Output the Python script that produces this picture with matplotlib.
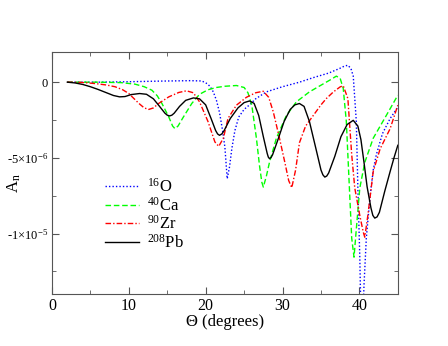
import matplotlib
matplotlib.use('Agg')
import matplotlib.pyplot as plt
from matplotlib.ticker import MultipleLocator, FixedLocator
import numpy as np

plt.rcParams['font.family'] = ['Liberation Serif', 'DejaVu Serif']
plt.rcParams['mathtext.fontset'] = 'custom'
plt.rcParams['mathtext.rm'] = 'Liberation Serif'
plt.rcParams['mathtext.it'] = 'Liberation Serif:italic'

# angles in degrees, asymmetries in units of 1e-6
theta_O = [2, 6, 10, 14, 18, 19.5, 20.2, 20.6, 21.0, 21.4, 21.8, 22.2, 22.5, 22.8,
           23.1, 23.4, 23.8, 24.3, 25.0, 25.7, 26.5, 27.9, 30, 32.2, 34, 36, 37.4,
           38.0, 38.5, 38.9, 39.2, 39.6, 39.8, 40.05, 40.3, 40.6, 40.9, 41.4, 41.8,
           42.2, 43.0, 44.0, 45]
A_O = [0, 0.0, 0.03, 0.07, 0.1, 0.08, -0.1, -0.3, -0.65, -1.2, -2.0, -3.2, -4.3, -6.38,
       -5.6, -4.4, -3.2, -2.3, -1.8, -1.5, -1.1, -0.64, -0.3, 0.0, 0.3, 0.6, 0.9,
       1.05, 1.12, 0.9, 0.4, -2.6, -7.0, -11.5, -18.0, -13.4, -10.3, -7.5, -5.8,
       -4.8, -3.4, -2.4, -1.65]

theta_Ca = [2, 6, 9, 10.8, 12, 13, 13.7, 14.3, 15.2, 15.7, 16.0, 16.4, 17.1, 18.2, 19.2,
            20.3, 21.4, 22.5, 24.0, 25.0, 25.5, 26.0, 26.6, 27.0, 27.3, 27.5, 27.9, 28.3,
            29.2, 30.5, 31.8, 33.5, 35, 36.2, 37.0, 37.5, 37.9, 38.3, 38.7, 39.0, 39.3,
            39.6, 40.05, 40.7, 41.8, 43.5, 45]
A_Ca = [0, 0, -0.03, -0.13, -0.3, -0.53, -0.9, -1.4, -2.3, -2.9, -3.07, -2.9, -2.3, -1.4,
        -0.8, -0.5, -0.35, -0.27, -0.22, -0.35, -0.7, -1.52, -3.7, -5.5, -6.6, -6.93,
        -6.2, -5.3, -3.7, -2.2, -1.3, -0.64, -0.2, 0.15, 0.4, 0.25, -0.42, -2.6, -7.0,
        -10.3, -11.56, -9.7, -7.0, -5.3, -3.7, -2.2, -0.86]

theta_Zr = [2, 4, 5.6, 7, 8.2, 9.2, 10.0, 11.3, 12.0, 12.6, 13.2, 13.9, 15.2, 16.5,
            17.5, 18.4, 19.2, 20.3, 21.2, 21.7, 22.3, 22.9, 24.0, 25.3, 26.5, 27.5,
            28.2, 28.8, 29.6, 30.3, 30.8, 31.2, 31.7, 32.2, 33.0, 34.0, 35.0, 35.7,
            36.6, 37.5, 37.9, 38.5, 39.0, 39.4, 40.05, 40.5, 40.7, 41.1, 41.8, 42.7,
            44.0, 45]
A_Zr = [0, -0.02, -0.09, -0.18, -0.3, -0.5, -0.75, -1.4, -1.7, -1.8, -1.7, -1.4, -0.97,
        -0.68, -0.57, -0.7, -1.3, -2.6, -3.95, -4.24, -3.7, -2.4, -1.52, -1.0, -0.7, -0.6,
        -1.0, -1.97, -3.7, -5.3, -6.5, -6.97, -5.8, -4.0, -2.9, -2.2, -1.5, -1.08,
        -0.65, -0.31, -0.24, -1.08, -4.8, -7.0, -8.8, -9.9, -10.24, -8.8, -5.9, -4.4,
        -3.07, -1.52]

theta_Pb = [2, 3, 4, 5, 6, 7, 8, 8.8, 9.5, 10.3, 11.4, 12.3, 13.2, 14.0, 14.7, 15.0, 15.3,
            15.6, 15.9, 16.6, 17.4, 18.4, 19.2, 20.0, 20.7, 21.3, 21.55, 21.8, 22.1, 22.4,
            23.2, 24.2, 25.0, 25.7, 26.3, 26.9, 27.5, 28.0, 28.15, 28.3, 28.5, 28.7, 29.4,
            30.2, 31.0, 31.6, 32.2, 32.8, 33.5, 34.3, 35.0, 35.25, 35.5, 35.75, 36.0,
            36.8, 37.6, 38.4, 39.2, 39.8, 40.2, 40.6, 41.0, 41.5, 41.75, 42.0, 42.3,
            42.6, 43.3, 44.0, 44.5, 45]
A_Pb = [0, -0.05, -0.15, -0.3, -0.48, -0.68, -0.88, -0.97, -0.95, -0.82, -0.75, -0.8,
        -1.1, -1.6, -2.05, -2.18, -2.23, -2.18, -2.05, -1.6, -1.2, -1.04, -1.1, -1.5,
        -2.4, -3.2, -3.42, -3.51, -3.42, -3.2, -2.4, -1.7, -1.35, -1.24, -1.4, -2.2,
        -3.6, -4.7, -4.95, -5.05, -4.98, -4.8, -3.8, -2.6, -1.8, -1.5, -1.41, -1.6,
        -2.6, -4.3, -5.8, -6.12, -6.27, -6.2, -6.0, -4.9, -3.6, -2.8, -2.52, -2.9,
        -3.8, -5.3, -6.9, -8.3, -8.8, -8.98, -8.9, -8.6, -7.2, -5.9, -5.0, -4.17]

labels = ['$^{16}$O', '$^{40}$Ca', '$^{90}$Zr', '$^{208}$Pb']

fig = plt.figure(figsize=(4.48, 3.46), dpi=100)
ax = fig.add_axes([0.116, 0.150, 0.772, 0.700])

ax.plot(theta_O, np.array(A_O) * 1e-6, color='blue', ls=(0, (1, 1.5)), lw=1.0, label=labels[0])
ax.plot(theta_Ca, np.array(A_Ca) * 1e-6, color='lime', ls=(0, (4, 2)), lw=1.0, label=labels[1])
ax.plot(theta_Zr, np.array(A_Zr) * 1e-6, color='red', ls=(0, (4, 1.5, 1, 1.5)), lw=1.0, label=labels[2])
ax.plot(theta_Pb, np.array(A_Pb) * 1e-6, color='black', ls='-', lw=1.0, label=labels[3])

ax.set_xlim(0, 45)
ax.set_ylim(-1.4e-5, 2e-6)
ax.xaxis.set_major_locator(MultipleLocator(10))
ax.xaxis.set_minor_locator(MultipleLocator(5))
ax.yaxis.set_major_locator(FixedLocator([-1e-5, -5e-6, 0]))
ax.yaxis.set_minor_locator(MultipleLocator(2.5e-6))
ax.set_yticklabels(['-1×10$^{-5}$', '-5×10$^{-6}$', '0'])

ax.tick_params(which='both', direction='in', top=True, right=True, color='#555555', pad=3)
ax.tick_params(axis='x', labelsize=11.5)
ax.tick_params(axis='y', labelsize=9)
ax.tick_params(which='major', length=5)
ax.tick_params(which='minor', length=3)
for s in ax.spines.values():
    s.set_color('#555555')

ax.set_xlabel('Θ (degrees)', fontsize=12, labelpad=0)
ax.set_ylabel('A$_\\mathrm{n}$', fontsize=12)
ax.yaxis.set_label_coords(-0.085, 0.46)

ax.legend(loc='upper left', bbox_to_anchor=(0.13, 0.515), frameon=False, fontsize=12,
          handlelength=2.0, handletextpad=0.5, labelspacing=0.05, borderpad=0)

fig.savefig('out.png', dpi=100)
